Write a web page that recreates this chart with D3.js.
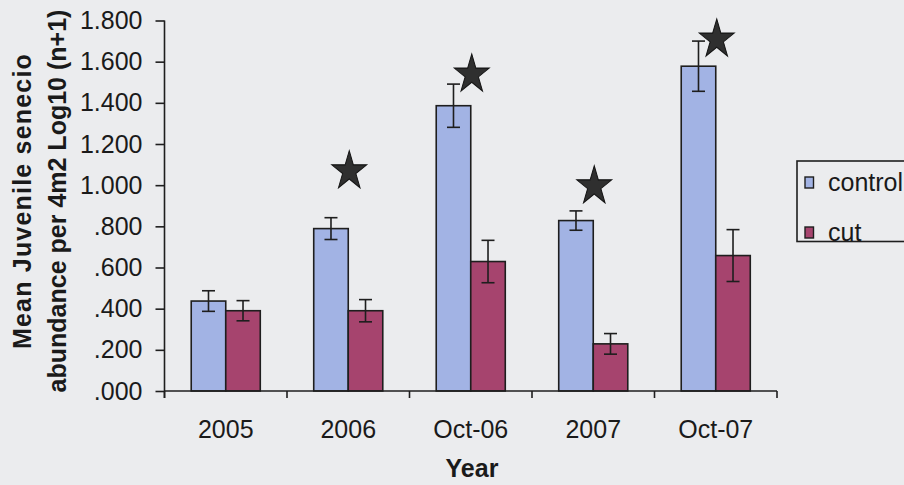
<!DOCTYPE html>
<html>
<head>
<meta charset="utf-8">
<script src="https://cdn.jsdelivr.net/npm/d3@7"></script>
<style>
  html, body { margin: 0; padding: 0; background: #ebecee; }
  svg { display: block; font-family: "Liberation Sans", Arial, sans-serif; }
</style>
</head>
<body>
<svg id="chart" width="904" height="485"></svg>
<script>
// Juvenile senecio abundance, control vs cut plots
const categories = ["2005", "2006", "Oct-06", "2007", "Oct-07"];
const seriesNames = ["control", "cut"];
const controlMean = [0.437, 0.789, 1.386, 0.828, 1.578];
const controlErr  = [0.050, 0.053, 0.105, 0.047, 0.122];
const cutMean     = [0.390, 0.390, 0.629, 0.229, 0.658];
const cutErr      = [0.049, 0.054, 0.103, 0.050, 0.126];
// significance stars: level (in axis units) for each year, null = none
const starLevel   = [null, 1.068, 1.538, 0.995, 1.708];
const yTicks      = [0, 0.2, 0.4, 0.6, 0.8, 1.0, 1.2, 1.4, 1.6, 1.8];

const colors = { control: "#a2b3e4", cut: "#a6446e" };
const ink = "#1e1e1e";
const textInk = "#1a1a1a";

const svg = d3.select("#chart");
const plotLeft = 164.5, plotRight = 777, plotTop = 20.5, plotBottom = 391;

const x = d3.scaleBand().domain(categories).range([plotLeft, plotRight]).paddingInner(0).paddingOuter(0);
const x1 = d3.scaleBand().domain(seriesNames).range([0, x.bandwidth()]).paddingInner(0).paddingOuter(0.774);
const y = d3.scaleLinear().domain([0, 1.8]).range([plotBottom, plotTop]);

const rows = categories.map((c, i) => ({
  cat: c,
  values: [
    { key: "control", mean: controlMean[i], err: controlErr[i] },
    { key: "cut", mean: cutMean[i], err: cutErr[i] }
  ],
  star: starLevel[i]
}));

// bars
const groups = svg.append("g").selectAll("g").data(rows).join("g")
  .attr("transform", d => `translate(${x(d.cat)},0)`);

groups.selectAll("rect").data(d => d.values).join("rect")
  .attr("x", d => x1(d.key))
  .attr("y", d => y(d.mean))
  .attr("width", x1.bandwidth())
  .attr("height", d => y(0) - y(d.mean))
  .attr("fill", d => colors[d.key])
  .attr("stroke", ink)
  .attr("stroke-width", 1.6);

// error bars
const eb = groups.selectAll("g.err").data(d => d.values).join("g").attr("class", "err")
  .attr("stroke", ink).attr("stroke-width", 1.6);
const cx = d => x1(d.key) + x1.bandwidth() / 2;
eb.append("line").attr("x1", cx).attr("x2", cx)
  .attr("y1", d => y(d.mean + d.err)).attr("y2", d => y(d.mean - d.err));
eb.append("line").attr("x1", d => cx(d) - 6.5).attr("x2", d => cx(d) + 6.5)
  .attr("y1", d => y(d.mean + d.err)).attr("y2", d => y(d.mean + d.err));
eb.append("line").attr("x1", d => cx(d) - 6.5).attr("x2", d => cx(d) + 6.5)
  .attr("y1", d => y(d.mean - d.err)).attr("y2", d => y(d.mean - d.err));

// significance stars
const star = d3.symbol().type(d3.symbolStar).size(375);
groups.filter(d => d.star != null).append("path")
  .attr("d", star)
  .attr("transform", d => `translate(${x1("control") + x1.bandwidth() + 1},${y(d.star)}) scale(1,1.12)`)
  .attr("fill", "#2f2f2f")
  .attr("stroke", "#151515")
  .attr("stroke-width", 1);

// y axis
const yAxis = d3.axisLeft(y).tickValues(yTicks).tickSize(9).tickPadding(13)
  .tickFormat(v => d3.format(".3f")(v).replace(/^0/, ""));
const gy = svg.append("g").attr("transform", `translate(${plotLeft},0)`).call(yAxis);
gy.select(".domain").attr("d", `M0,${plotTop}V${plotBottom + 7}`).attr("stroke", ink).attr("stroke-width", 1.6);
gy.selectAll(".tick line").attr("stroke", ink).attr("stroke-width", 1.6);
gy.selectAll(".tick text").attr("fill", textInk).style("font-size", "25px");

// x axis with ticks between categories
const gx = svg.append("g").attr("transform", `translate(0,${plotBottom})`);
gx.append("line").attr("x1", plotLeft).attr("x2", plotRight).attr("y1", 0).attr("y2", 0)
  .attr("stroke", ink).attr("stroke-width", 1.6);
const bounds = categories.map(c => x(c)).concat([x(categories[categories.length - 1]) + x.bandwidth()]);
gx.selectAll("line.tk").data(bounds).join("line").attr("class", "tk")
  .attr("x1", d => d).attr("x2", d => d).attr("y1", 0).attr("y2", 7)
  .attr("stroke", ink).attr("stroke-width", 1.6);
gx.selectAll("text").data(categories).join("text")
  .attr("x", d => x(d) + x.bandwidth() / 2)
  .attr("y", 47)
  .attr("text-anchor", "middle")
  .attr("fill", textInk)
  .style("font-size", "25px")
  .text(d => d);

// axis titles
svg.append("text")
  .attr("x", 472)
  .attr("y", 477)
  .attr("text-anchor", "middle")
  .attr("fill", textInk)
  .style("font-size", "25px").style("font-weight", "bold")
  .text("Year");

const yTitle = svg.append("text")
  .attr("transform", "translate(0,201) rotate(-90)")
  .attr("text-anchor", "middle")
  .attr("fill", textInk)
  .style("font-size", "25px").style("font-weight", "bold");
yTitle.append("tspan").attr("x", 0).attr("y", 31).attr("letter-spacing", 1.2).text("Mean Juvenile senecio");
yTitle.append("tspan").attr("x", 0).attr("y", 66).text("abundance per 4m2 Log10 (n+1)");

// legend
const lg = svg.append("g");
lg.append("rect").attr("x", 797).attr("y", 161).attr("width", 130).attr("height", 80.5)
  .attr("fill", "none").attr("stroke", ink).attr("stroke-width", 1.6);
const li = lg.selectAll("g.item").data(seriesNames).join("g").attr("class", "item")
  .attr("transform", (d, i) => `translate(805,${177 + i * 50})`);
li.append("rect").attr("width", 8.5).attr("height", 11)
  .attr("fill", d => colors[d]).attr("stroke", ink).attr("stroke-width", 1.4);
li.append("text").attr("x", 23).attr("y", 14)
  .attr("fill", textInk).style("font-size", "25px")
  .text(d => d);
</script>
</body>
</html>
